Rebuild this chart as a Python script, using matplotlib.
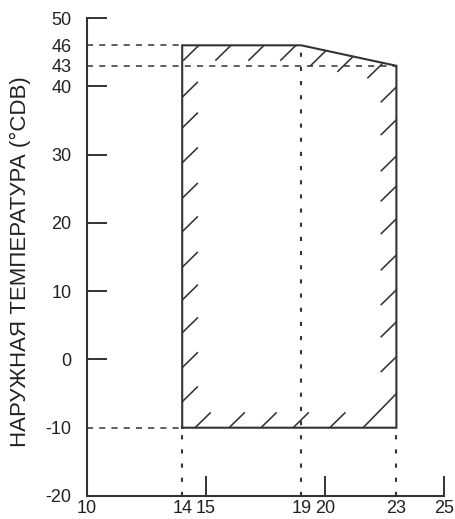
import matplotlib

matplotlib.use("Agg")

import numpy as np
import matplotlib.pyplot as plt

plt.rcParams["font.family"] = ["Liberation Sans", "DejaVu Sans"]

INK = "#333333"

# operating envelope (outdoor temp vs indoor temp)
ENV_X = [14, 14, 19, 23, 23]
ENV_Y = [-10, 46, 46, 43, -10]

# x ticks: marks at 15/20/25, labels only at the envelope corners
X_MARK_TICKS = [15, 20, 25]
X_LABEL_TICKS = [10, 14, 19, 23]
Y_MARK_TICKS = [0, 10, 20, 30, 40, 50]
Y_LABEL_TICKS = [-20, -10, 43, 46]

# hatch strokes
LEFT_HATCH_Y = [-6.2, -1.2, 3.9, 8.7, 13.5, 18.7, 23.6, 28.8, 33.9, 38.4]
RIGHT_HATCH_Y = [0.4, 5.5, 10.2, 15.3, 20.6, 25.4, 29.8, 35.1, 39.9]
TOP_HATCH_X = [14.7, 16.05, 17.44, 18.78, 20.04, 21.18, 22.44]
BOTTOM_HATCH_X = [14.54, 15.97, 17.31, 18.66, 20.2]
CORNER_HATCH = ([21.6, 23.0], [-10.0, -5.0])

HATCH_DX = 0.66
HATCH_DY = 2.25

YLABEL = "НАРУЖНАЯ ТЕМПЕРАТУРА (°CDB)"


def top_edge(x):
    return np.interp(x, ENV_X[1:4], ENV_Y[1:4])


def stroke(ax, x0, y0, x1, y1):
    ax.plot([x0, x1], [y0, y1], color=INK, linewidth=1.15, solid_capstyle="butt")


fig = plt.figure(figsize=(4.55, 5.19), dpi=100)
ax = fig.add_axes([87 / 455, 23 / 519, 357 / 455, 478 / 519])
ax.set_xlim(10, 25)
ax.set_ylim(-20, 50)

for side in ("top", "right"):
    ax.spines[side].set_visible(False)
for side in ("left", "bottom"):
    ax.spines[side].set_linewidth(1.5)
    ax.spines[side].set_color(INK)

ax.set_xticks(X_MARK_TICKS)
ax.set_xticks(X_LABEL_TICKS, minor=True)
ax.set_yticks(Y_MARK_TICKS)
ax.set_yticks(Y_LABEL_TICKS, minor=True)
ax.set_xticklabels([str(v) for v in X_MARK_TICKS])
ax.set_xticklabels([str(v) for v in X_LABEL_TICKS], minor=True)
ax.set_yticklabels([str(v) for v in Y_MARK_TICKS])
ax.set_yticklabels([str(v) for v in Y_LABEL_TICKS], minor=True)
ax.tick_params(which="major", direction="in", length=14.5, width=1.4, color=INK,
               labelsize=13, labelcolor="#222222")
ax.tick_params(which="minor", direction="in", length=0, labelsize=13, labelcolor="#222222")
ax.tick_params(axis="y", which="both", pad=11)
ax.tick_params(axis="x", which="both", pad=3)

# guide lines
hdash = dict(color=INK, linewidth=1.1, dashes=(4, 4))
vdash = dict(color=INK, linewidth=1.5, dashes=(2.0, 4.8))
ax.plot([10, 14], [46, 46], **hdash)
ax.plot([10, 23], [43, 43], **hdash)
ax.plot([10, 14], [-10, -10], **hdash)
ax.plot([14, 14], [-20, -10], **vdash)
ax.plot([19, 19], [-20, 46], **vdash)
ax.plot([23, 23], [-20, -10], **vdash)

# envelope outline
ax.plot(ENV_X + ENV_X[:1], ENV_Y + ENV_Y[:1], color=INK, linewidth=1.5,
        solid_joinstyle="miter")

# hatching inside the edges
for y in LEFT_HATCH_Y:
    stroke(ax, 14, y, 14 + HATCH_DX, y + HATCH_DY)
for y in RIGHT_HATCH_Y:
    stroke(ax, 23 - HATCH_DX, y - HATCH_DY, 23, y)
for x in TOP_HATCH_X:
    y = top_edge(x)
    stroke(ax, x - HATCH_DX, y - HATCH_DY, x, y)
for x in BOTTOM_HATCH_X:
    stroke(ax, x, -10, x + HATCH_DX, -10 + HATCH_DY)
stroke(ax, CORNER_HATCH[0][0], CORNER_HATCH[1][0], CORNER_HATCH[0][1], CORNER_HATCH[1][1])

fig.text(20 / 455, 1 - 262 / 519, YLABEL, rotation=90, ha="center", va="center",
         fontsize=16, color="#222222")

fig.savefig("out.png", dpi=100)
